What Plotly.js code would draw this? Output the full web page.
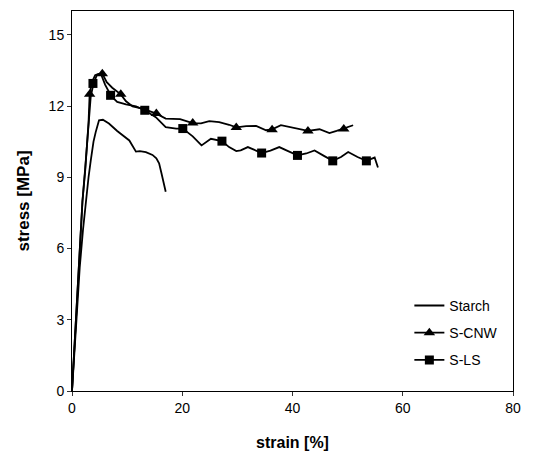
<!DOCTYPE html>
<html><head><meta charset="utf-8">
<script src="https://cdn.plot.ly/plotly-3.0.1.min.js"></script>
<style>html,body{margin:0;padding:0;background:#fff}#chart{width:549px;height:454px}</style>
</head><body><div id="chart"></div>
<script>
const seriesNames = ["Starch", "S-CNW", "S-LS"];

const starchStrain = [0, 0.7, 1.4, 2.0, 2.5, 3.0, 3.4, 3.9, 4.3, 4.9, 5.6, 6.7, 8.2, 10.4, 11.6, 12.3, 13.4, 14.6, 15.3, 15.8, 16.2, 16.6, 17.0];
const starchStress = [0, 2.6, 5.2, 6.8, 8.0, 9.0, 9.7, 10.5, 10.9, 11.4, 11.42, 11.26, 10.95, 10.55, 10.08, 10.1, 10.06, 9.94, 9.8, 9.59, 9.2, 8.8, 8.39];

const cnwStrain = [0, 0.6, 1.2, 1.9, 2.4, 2.8, 3.0, 3.2, 3.6, 4.2, 4.8, 5.5, 6.3, 7.3, 8.85, 9.8, 11.0, 12.8, 14.0, 15.3, 17.0, 19.6, 21.9, 23.4, 24.9, 26.7, 28.5, 29.8, 31.6, 33.4, 35.2, 36.3, 37.9, 40.1, 42.8, 44.9, 46.7, 48.0, 49.3, 51.0];
const cnwStress = [0, 2.6, 5.2, 8.0, 9.3, 10.4, 11.3, 12.5, 13.0, 13.3, 13.35, 13.36, 13.0, 12.77, 12.49, 12.2, 11.98, 11.89, 11.8, 11.68, 11.47, 11.45, 11.28, 11.27, 11.36, 11.32, 11.21, 11.1, 11.15, 11.16, 10.98, 11.02, 11.19, 11.07, 10.95, 11.02, 10.86, 10.95, 11.05, 11.19];

const lsStrain = [0, 0.6, 1.3, 1.9, 2.4, 2.8, 3.1, 3.4, 3.9, 4.5, 5.2, 6.0, 7.1, 8.2, 9.8, 11.6, 13.2, 15.2, 17.0, 18.9, 20.1, 21.9, 23.5, 25.2, 27.2, 28.5, 29.8, 30.6, 31.9, 33.0, 34.4, 36.0, 37.6, 39.2, 40.9, 42.5, 44.0, 45.7, 47.3, 48.8, 50.1, 51.8, 53.4, 54.9, 55.5];
const lsStress = [0, 2.7, 5.5, 8.0, 9.4, 10.5, 11.6, 12.4, 12.94, 13.3, 13.38, 12.9, 12.42, 12.17, 12.07, 11.98, 11.82, 11.53, 11.11, 11.05, 11.05, 10.72, 10.34, 10.62, 10.52, 10.27, 10.1, 10.13, 10.27, 10.15, 10.02, 10.12, 10.27, 10.1, 9.92, 10.0, 10.13, 9.9, 9.69, 9.85, 10.06, 9.85, 9.69, 9.83, 9.41];

const cnwMarkStrain = [3.2, 5.5, 8.85, 15.3, 21.9, 29.8, 36.3, 42.8, 49.3];
const cnwMarkStress = [12.5, 13.36, 12.49, 11.68, 11.28, 11.1, 11.0, 10.95, 11.03];
const lsMarkStrain = [3.8, 7.0, 13.2, 20.1, 27.2, 34.4, 40.9, 47.3, 53.4];
const lsMarkStress = [12.95, 12.45, 11.82, 11.05, 10.52, 10.02, 9.92, 9.69, 9.69];

const xTicks = [0, 20, 40, 60, 80];
const yTicks = [0, 3, 6, 9, 12, 15];

function gapped(arr) {
  const out = [];
  arr.forEach((v, i) => { if (i) out.push(null); out.push(v); });
  return out;
}

const lineStyle = {color: '#000', width: 1.8};

const data = [
  {x: starchStrain, y: starchStress, type: 'scatter', mode: 'lines', name: seriesNames[0],
   legendgroup: 'a', line: lineStyle},
  {x: cnwStrain, y: cnwStress, type: 'scatter', mode: 'lines', showlegend: false,
   legendgroup: 'b', line: lineStyle, hoverinfo: 'skip'},
  {x: gapped(cnwMarkStrain), y: gapped(cnwMarkStress), type: 'scatter', mode: 'lines+markers',
   connectgaps: false, name: seriesNames[1], legendgroup: 'b', line: lineStyle,
   marker: {symbol: 'triangle-up', size: 10, color: '#000'}},
  {x: lsStrain, y: lsStress, type: 'scatter', mode: 'lines', showlegend: false,
   legendgroup: 'c', line: lineStyle, hoverinfo: 'skip'},
  {x: gapped(lsMarkStrain), y: gapped(lsMarkStress), type: 'scatter', mode: 'lines+markers',
   connectgaps: false, name: seriesNames[2], legendgroup: 'c', line: lineStyle,
   marker: {symbol: 'square', size: 9, color: '#000'}}
];

const layout = {
  width: 549, height: 454,
  margin: {l: 72, r: 36, t: 11, b: 63},
  paper_bgcolor: '#fff', plot_bgcolor: '#fff',
  font: {family: 'Liberation Sans, Arial, sans-serif', size: 14, color: '#000'},
  showlegend: true,
  legend: {x: 0.765, y: 0.266, xanchor: 'left', yanchor: 'top', bgcolor: 'rgba(0,0,0,0)',
           font: {size: 14, color: '#000'}, tracegroupgap: 6},
  xaxis: {range: [0, 80], tickvals: xTicks, ticktext: xTicks.map(String), showgrid: false, zeroline: false,
          showline: true, linecolor: '#000', linewidth: 1, mirror: true,
          ticks: 'outside', ticklen: 4, tickcolor: '#333',
          title: {text: '<b>strain [%]</b>', font: {size: 16}, standoff: 22}},
  yaxis: {range: [0, 16], tickvals: yTicks, ticktext: yTicks.map(String), showgrid: false, zeroline: false,
          showline: true, linecolor: '#000', linewidth: 1, mirror: true,
          ticks: 'outside', ticklen: 4, tickcolor: '#333',
          title: {text: '<b>stress [MPa]</b>', font: {size: 17}, standoff: 14}}
};

Plotly.newPlot('chart', data, layout, {displayModeBar: false, staticPlot: true});
</script>
</body></html>
